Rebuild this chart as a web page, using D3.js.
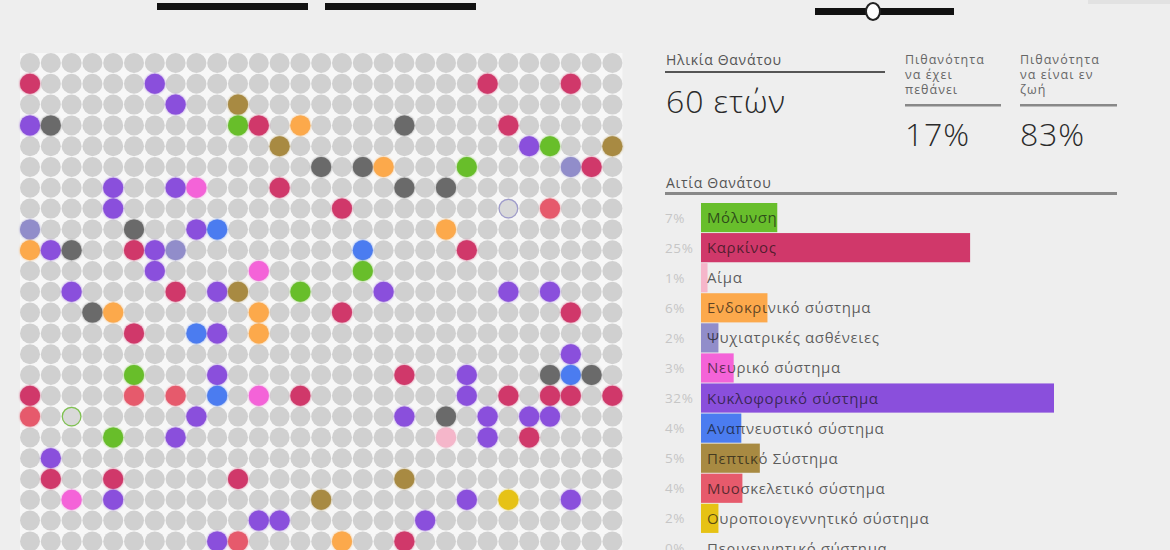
<!DOCTYPE html>
<html>
<head>
<meta charset="utf-8">
<script src="https://cdn.jsdelivr.net/npm/d3@7"></script>
<style>
  html, body { margin: 0; padding: 0; background: #eeeeee; }
  svg { display: block; font-family: "Open Sans", "Noto Sans", sans-serif; }
</style>
</head>
<body>
<svg id="chart" width="1170" height="550"></svg>
<script>
// ---------- DATA ----------
const causes = ["Μόλυνση","Καρκίνος","Αίμα","Ενδοκρινικό σύστημα","Ψυχιατρικές ασθένειες","Νευρικό σύστημα","Κυκλοφορικό σύστημα","Αναπνευστικό σύστημα","Πεπτικό Σύστημα","Μυοσκελετικό σύστημα","Ουροποιογεννητικό σύστημα","Περιγεννητικό σύστημα"];
const causeKeys = ["G","K","A","O","L","N","P","B","W","M","Y","R"];
const causeValues = [7.0, 24.7, 0.6, 6.1, 1.6, 3.0, 32.4, 3.7, 5.4, 3.8, 1.6, 0];
const causeColors = ["#68be2c","#d0386a","#f5b6ca","#fca94c","#918dca","#f463d8","#8a4fdc","#4b7cf0","#a88a42","#e65a6c","#e6c214","#999999"];
const otherKey = "D", otherColor = "#6a6a6a";

const ageLabel = "60 ετών";
const probDead = "17%";
const probAlive = "83%";

const gridCols = 29, gridRows = 24;
// deceased people: [column, row, cause key]; "h" suffix = highlighted ring
const deadCells = [
 [0,1,"K"],[6,1,"P"],[22,1,"K"],[26,1,"K"],
 [7,2,"P"],[10,2,"W"],
 [0,3,"P"],[1,3,"D"],[10,3,"G"],[11,3,"K"],[13,3,"O"],[18,3,"D"],[23,3,"K"],
 [12,4,"W"],[24,4,"P"],[25,4,"G"],[28,4,"W"],
 [14,5,"D"],[16,5,"D"],[17,5,"O"],[21,5,"G"],[26,5,"L"],[27,5,"K"],
 [4,6,"P"],[7,6,"P"],[8,6,"N"],[12,6,"K"],[18,6,"D"],[20,6,"D"],
 [4,7,"P"],[15,7,"K"],[23,7,"Lh"],[25,7,"M"],
 [0,8,"L"],[5,8,"D"],[8,8,"P"],[9,8,"B"],[20,8,"O"],
 [0,9,"O"],[1,9,"P"],[2,9,"D"],[5,9,"K"],[6,9,"P"],[7,9,"L"],[16,9,"B"],[21,9,"K"],
 [6,10,"P"],[11,10,"N"],[16,10,"G"],
 [2,11,"P"],[7,11,"K"],[9,11,"P"],[10,11,"W"],[13,11,"G"],[17,11,"P"],[23,11,"P"],[25,11,"P"],
 [3,12,"D"],[4,12,"O"],[11,12,"O"],[15,12,"K"],[26,12,"K"],
 [5,13,"K"],[8,13,"B"],[9,13,"P"],[11,13,"O"],
 [26,14,"P"],
 [5,15,"G"],[9,15,"P"],[18,15,"K"],[21,15,"P"],[25,15,"D"],[26,15,"B"],[27,15,"D"],
 [0,16,"K"],[5,16,"M"],[7,16,"M"],[9,16,"B"],[11,16,"N"],[13,16,"K"],[21,16,"P"],[23,16,"K"],[25,16,"K"],[26,16,"K"],[28,16,"K"],
 [0,17,"M"],[2,17,"Gh"],[8,17,"P"],[18,17,"P"],[20,17,"D"],[22,17,"P"],[24,17,"P"],[25,17,"P"],
 [4,18,"G"],[7,18,"P"],[20,18,"A"],[22,18,"P"],[24,18,"K"],
 [1,19,"P"],
 [1,20,"K"],[4,20,"K"],[10,20,"K"],[18,20,"W"],
 [2,21,"N"],[4,21,"P"],[14,21,"W"],[21,21,"P"],[23,21,"Y"],[26,21,"P"],
 [11,22,"P"],[12,22,"P"],[19,22,"P"],
 [9,23,"P"],[10,23,"M"],[15,23,"O"],[18,23,"K"]
];

// ---------- DRAW ----------
const svg = d3.select("#chart");
const colorOf = k => k === otherKey ? otherColor : causeColors[causeKeys.indexOf(k)];

const defs = svg.append("defs");
const glow = defs.append("filter").attr("id","glow").attr("x","-50%").attr("y","-50%").attr("width","200%").attr("height","200%");
glow.append("feGaussianBlur").attr("in","SourceGraphic").attr("stdDeviation",1.3).attr("result","b");
const fm = glow.append("feMerge");
fm.append("feMergeNode").attr("in","b");
fm.append("feMergeNode").attr("in","SourceGraphic");

// top controls (cut off)
svg.append("rect").attr("x",157).attr("y",3).attr("width",151).attr("height",7).attr("fill","#111");
svg.append("rect").attr("x",325).attr("y",3).attr("width",151).attr("height",7).attr("fill","#111");
svg.append("rect").attr("x",815).attr("y",8).attr("width",139).attr("height",7).attr("fill","#111");
svg.append("ellipse").attr("cx",873).attr("cy",11.5).attr("rx",7).attr("ry",8.5)
  .attr("fill","#fff").attr("stroke","#222").attr("stroke-width",2);
svg.append("rect").attr("x",1088).attr("y",0).attr("width",82).attr("height",4).attr("fill","#e2e2e2");

// dot grid
const gx = d3.scaleLinear().domain([0, gridCols - 1]).range([30, 612.4]);
const gy = d3.scaleLinear().domain([0, gridRows - 1]).range([63, 541.4]);
const r = 10;

svg.append("rect").attr("x",gx(0)-r).attr("y",gy(0)-r)
  .attr("width",gx(gridCols-1)-gx(0)+2*r).attr("height",600).attr("fill","#f7f7f7");

const cells = d3.cross(d3.range(gridRows), d3.range(gridCols)).map(([row,col]) => ({row,col}));
svg.append("g").selectAll("circle").data(cells).join("circle")
  .attr("cx", d => gx(d.col)).attr("cy", d => gy(d.row)).attr("r", r)
  .attr("fill", "#d0d0d0");

const dead = deadCells.map(([col,row,k]) => ({col,row,key:k.replace("h",""),ring:k.endsWith("h")}));
svg.append("g").selectAll("circle").data(dead.filter(d=>!d.ring)).join("circle")
  .attr("cx", d => gx(d.col)).attr("cy", d => gy(d.row)).attr("r", r)
  .attr("fill", d => colorOf(d.key)).attr("filter","url(#glow)");
svg.append("g").selectAll("circle").data(dead.filter(d=>d.ring)).join("circle")
  .attr("cx", d => gx(d.col)).attr("cy", d => gy(d.row)).attr("r", r - 0.7)
  .attr("fill", "#d9d9d9").attr("stroke", d => colorOf(d.key)).attr("stroke-width", 1.2).attr("stroke-opacity",0.8);

// header panel
const hdr = svg.append("g");
hdr.append("text").attr("x",666).attr("y",65).attr("font-size",14).attr("letter-spacing",0.7).attr("fill","#555").text("Ηλικία Θανάτου");
hdr.append("rect").attr("x",665).attr("y",71).attr("width",220).attr("height",2).attr("fill","#555");
hdr.append("text").attr("x",666).attr("y",113).attr("font-size",32).attr("letter-spacing",0.9).attr("font-weight",300).attr("fill","#2a2a2a").text(ageLabel);

const probCols = [
  {x:905, w:96, lines:["Πιθανότητα","να έχει","πεθάνει"], value:probDead},
  {x:1020, w:97, lines:["Πιθανότητα","να είναι εν","ζωή"], value:probAlive}
];
probCols.forEach(p => {
  p.lines.forEach((l,i) => hdr.append("text").attr("x",p.x).attr("y",64 + i*15)
    .attr("font-size",12.5).attr("letter-spacing",1).attr("fill","#666").text(l));
  hdr.append("rect").attr("x",p.x).attr("y",104).attr("width",p.w).attr("height",2.5).attr("fill","#888");
  hdr.append("text").attr("x",p.x).attr("y",146).attr("font-size",32).attr("letter-spacing",0.8).attr("font-weight",300).attr("fill","#2a2a2a").text(p.value);
});

hdr.append("text").attr("x",666).attr("y",188).attr("font-size",14).attr("letter-spacing",0.7).attr("fill","#555").text("Αιτία Θανάτου");
hdr.append("rect").attr("x",665).attr("y",192).attr("width",452).attr("height",3).attr("fill","#888");

// bar chart of causes
const bx = d3.scaleLinear().domain([0, d3.max(causeValues)]).range([0, 353]);
const by = d3.scaleBand().domain(causes).range([203, 203 + 30*causes.length]).paddingInner(0.03);
const x0 = 701;
const fmt = v => d3.format(".0f")(v) + "%";

const rows = svg.append("g").selectAll("g").data(causes).join("g")
  .attr("transform", d => `translate(0,${by(d)})`);
rows.append("rect").attr("x",x0).attr("y",0)
  .attr("width",(d,i) => bx(causeValues[i])).attr("height",by.bandwidth())
  .attr("fill",(d,i) => causeColors[i]);
rows.append("text").attr("x",665).attr("y",by.bandwidth()/2 + 5)
  .attr("font-size",13.5).attr("letter-spacing",0.6).attr("fill","#c6c6c6").text((d,i) => fmt(causeValues[i]));
rows.append("text").attr("x",707).attr("y",by.bandwidth()/2 + 5.5)
  .attr("font-size",15).attr("letter-spacing",0.6).attr("fill","#111").attr("fill-opacity",0.68).text(d => d);
</script>
</body>
</html>
